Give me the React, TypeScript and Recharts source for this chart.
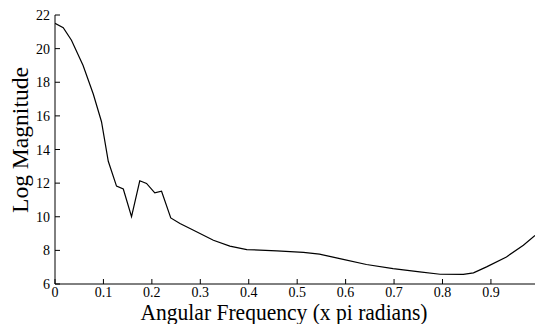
import { LineChart, Line, XAxis, YAxis } from 'recharts'

// frequency in units of pi radians
const freq = [
  0.0, 0.017, 0.034, 0.058, 0.079, 0.096, 0.11, 0.127, 0.141, 0.158, 0.175,
  0.189, 0.206, 0.22, 0.239, 0.258, 0.286, 0.327, 0.361, 0.396, 0.458, 0.513,
  0.546, 0.595, 0.643, 0.698, 0.753, 0.795, 0.843, 0.864, 0.891, 0.932, 0.967,
  0.991,
]

const logMag = [
  21.5, 21.25, 20.5, 19.0, 17.3, 15.65, 13.3, 11.82, 11.65, 10.0, 12.14,
  11.98, 11.42, 11.52, 9.93, 9.6, 9.2, 8.6, 8.25, 8.05, 7.97, 7.88,
  7.78, 7.46, 7.16, 6.92, 6.72, 6.58, 6.57, 6.66, 7.02, 7.61, 8.31,
  8.88,
]

const xTicks = [0, 0.1, 0.2, 0.3, 0.4, 0.5, 0.6, 0.7, 0.8, 0.9]
const yTicks = [6, 8, 10, 12, 14, 16, 18, 20, 22]

const data = freq.map((f, i) => ({ f, mag: logMag[i] }))

const font = '"Liberation Serif", "Times New Roman", serif'

function XTick({ x, y, payload }: any) {
  return (
    <text x={x} y={y + 9} textAnchor="middle" fontFamily={font} fontSize={14} fill="#000">
      {payload.value === 0 ? '0' : String(payload.value)}
    </text>
  )
}

function YTick({ x, y, payload }: any) {
  return (
    <text x={x} y={y + 5} textAnchor="end" fontFamily={font} fontSize={14} fill="#000">
      {payload.value}
    </text>
  )
}

export default function App() {
  return (
    <div style={{ position: 'absolute', left: 0, top: 0, width: 536, height: 324, background: '#fff' }}>
      <LineChart width={536} height={324} data={data} margin={{ top: 15, right: 1, bottom: 0, left: 0 }}>
        <XAxis
          dataKey="f"
          type="number"
          domain={[0, 0.991]}
          ticks={xTicks}
          height={40}
          stroke="#000"
          tickSize={-5}
          tickMargin={9}
          tick={<XTick />}
          allowDataOverflow
        />
        <XAxis
          xAxisId="top"
          orientation="top"
          type="number"
          domain={[0, 0.991]}
          ticks={xTicks}
          height={0}
          stroke="#000"
          tickSize={-5}
          tick={false}
          allowDataOverflow
        />
        <YAxis
          type="number"
          domain={[6, 22]}
          ticks={yTicks}
          width={55}
          stroke="#000"
          tickSize={-5}
          tickMargin={10}
          tick={<YTick />}
          allowDataOverflow
        />
        <YAxis
          yAxisId="right"
          orientation="right"
          type="number"
          domain={[6, 22]}
          ticks={yTicks}
          width={0}
          stroke="#000"
          tickSize={-5}
          tick={false}
          allowDataOverflow
        />
        <Line
          dataKey="mag"
          type="linear"
          stroke="#000"
          strokeWidth={1.2}
          dot={false}
          isAnimationActive={false}
        />
      </LineChart>
      <svg width={536} height={324} style={{ position: 'absolute', left: 0, top: 0, pointerEvents: 'none' }}>
        <text
          x={284}
          y={320}
          textAnchor="middle"
          fontFamily={font}
          fontSize={24}
          textLength={287}
          lengthAdjust="spacingAndGlyphs"
          fill="#000"
        >
          Angular Frequency (x pi radians)
        </text>
        <text
          transform="translate(28,140) rotate(-90)"
          textAnchor="middle"
          fontFamily={font}
          fontSize={23}
          textLength={146}
          lengthAdjust="spacingAndGlyphs"
          fill="#000"
        >
          Log Magnitude
        </text>
      </svg>
    </div>
  )
}
